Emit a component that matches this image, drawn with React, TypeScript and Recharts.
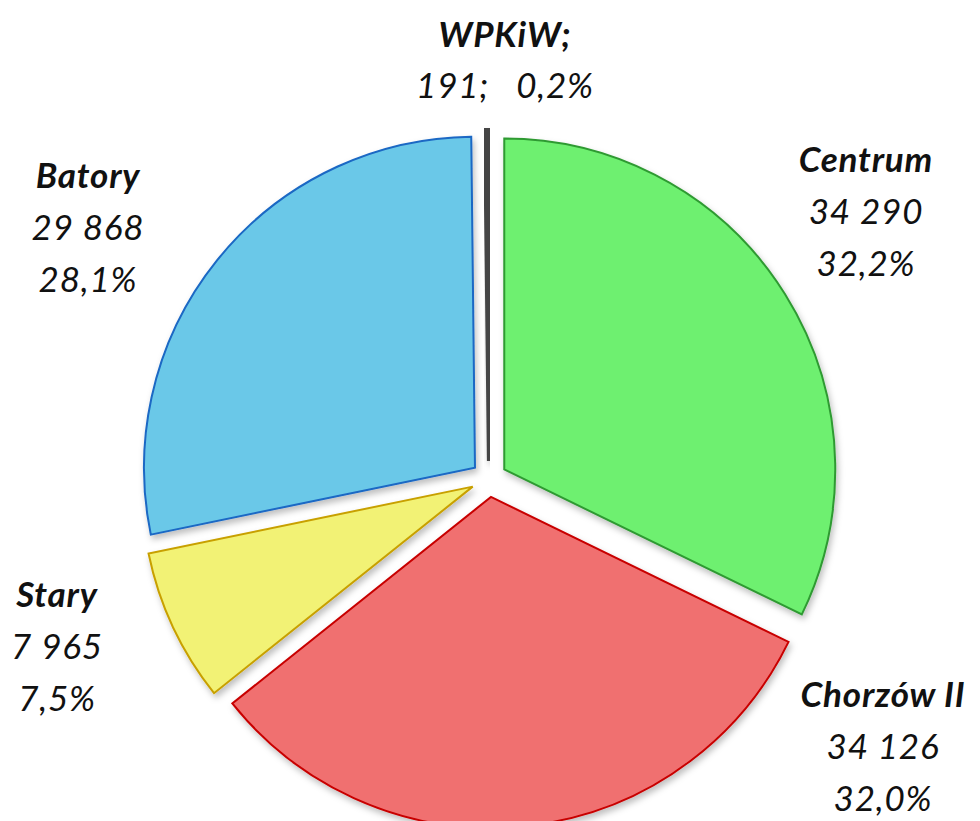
import { PieChart, Pie, Cell } from 'recharts'

const districts = ['Centrum', 'Chorzów II', 'Stary', 'Batory', 'WPKiW']
const voters = [34290, 34126, 7965, 29868, 191]
const shares = ['32,2%', '32,0%', '7,5%', '28,1%', '0,2%']

const fills = ['#6ef070', '#f07070', '#f2f274', '#6bc8e8', '#6e6e6e']
const strokes = ['#2f9a32', '#c80000', '#c8a000', '#1a68c4', '#454545']
const strokeWidths = [2, 2, 2, 2, 4]

// where each label block sits (centre x, first baseline y)
const labelAnchor: Record<string, [number, number]> = {
  Centrum: [866, 172],
  'Chorzów II': [883, 707],
  Stary: [57, 607],
  Batory: [88, 188],
  WPKiW: [505, 47],
}

const data = districts.map((name, i) => ({ name, value: voters[i], share: shares[i] }))

const CX = 484
const CY = 474
const R = 331
const EXPLODE = 18
const total = voters.reduce((a, b) => a + b, 0)

const fmt = (v: number) => String(v).replace(/\B(?=(\d{3})+(?!\d))/g, ' ')

// mid angle of slice i, clockwise from 12 o'clock
function midDeg(i: number) {
  const before = voters.slice(0, i).reduce((a, b) => a + b, 0)
  return ((before + voters[i] / 2) / total) * 360
}

const font = { fontFamily: 'Lato, sans-serif', fontStyle: 'italic', fill: '#111', letterSpacing: 0.8 }

function SliceLabel(props: any) {
  const name = props.name ?? props.payload?.name
  const entry = data.find((d) => d.name === name)
  if (!entry) return null
  const [x, y] = labelAnchor[name]
  if (entry.value / total < 0.01) {
    return (
      <text x={x} y={y} textAnchor="middle" style={{ ...font, whiteSpace: 'pre' }} fontSize={35}>
        <tspan x={x} y={y} fontWeight={700}>{name};</tspan>
        <tspan x={x} y={y + 51}>{`${fmt(entry.value)};   ${entry.share}`}</tspan>
      </text>
    )
  }
  return (
    <text x={x} y={y} textAnchor="middle" style={font} fontSize={35}>
      <tspan x={x} y={y} fontWeight={700}>{name}</tspan>
      <tspan x={x} y={y + 52}>{fmt(entry.value)}</tspan>
      <tspan x={x} y={y + 104}>{entry.share}</tspan>
    </text>
  )
}

export default function App() {
  return (
    <div style={{ position: 'absolute', left: 0, top: 0, background: '#fff' }}>
      <PieChart width={980} height={821}>
        <defs>
          <filter id="sliceShadow" x="-20%" y="-20%" width="140%" height="140%">
            <feDropShadow dx="2" dy="4" stdDeviation="3" floodColor="#000" floodOpacity="0.25" />
          </filter>
        </defs>
        {districts.map((d, k) => {
          const a = (midDeg(k) * Math.PI) / 180
          return (
            <Pie
              key={d}
              data={data}
              dataKey="value"
              nameKey="name"
              cx={CX + EXPLODE * Math.sin(a)}
              cy={CY - EXPLODE * Math.cos(a)}
              outerRadius={R}
              startAngle={90}
              endAngle={-270}
              isAnimationActive={false}
              labelLine={false}
              label={k === 0 ? (p: any) => <SliceLabel {...p} /> : false}
            >
              {data.map((_, i) => (
                <Cell
                  key={i}
                  fill={i === k ? fills[i] : 'none'}
                  stroke={i === k ? strokes[i] : 'none'}
                  strokeWidth={strokeWidths[i]}
                  filter={i === k ? 'url(#sliceShadow)' : undefined}
                />
              ))}
            </Pie>
          )
        })}
      </PieChart>
    </div>
  )
}
